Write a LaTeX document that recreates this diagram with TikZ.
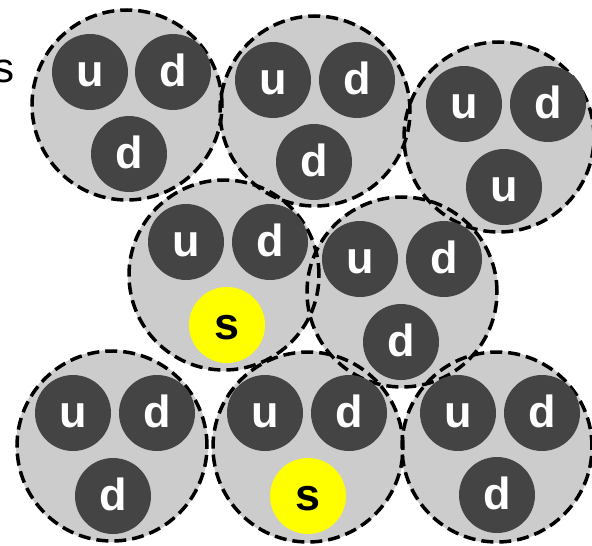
\documentclass[tikz,border=0pt]{standalone}
\usepackage{fontspec}
\setmainfont{Liberation Sans}
\definecolor{hgray}{HTML}{CCCCCC}
\definecolor{qdark}{HTML}{444444}
\definecolor{qyellow}{HTML}{FFFF00}
\begin{document}
\begin{tikzpicture}[x=1pt,y=-1pt,
  hadron/.style={circle, fill=hgray, minimum size=192pt, inner sep=0pt},
  hborder/.style={draw=black, line width=3.5pt, dash pattern=on 12pt off 6pt},
  quark/.style={circle, fill=qdark, minimum size=76pt, inner sep=0pt, text=white,
    font=\fontsize{45}{45}\selectfont\bfseries, text height=29pt, text depth=0pt},
  squark/.style={quark, fill=qyellow, text=black}]
\useasboundingbox (0,0) rectangle (592,546);
% hadrons
\node[hadron] (h1) at (127,105) {};
\node[hadron] (h2) at (315,111) {};
\node[hadron] (h3) at (499,137) {};
\node[hadron] (h4) at (224,275) {};
\node[hadron] (h5) at (402,292) {};
\node[hadron] (h6) at (112,446) {};
\node[hadron] (h7) at (308,447) {};
\node[hadron] (h8) at (497,447) {};
\foreach \n in {1,...,8} \draw[hborder] (h\n.center) circle[radius=95pt];
% quarks
\node[quark] (q1a) at (90,72) {u};
\node[quark] (q1b) at (173,72) {d};
\node[quark] (q1c) at (129,154) {d};
\node[quark] (q2a) at (273,80) {u};
\node[quark] (q2b) at (357,80) {d};
\node[quark] (q2c) at (314,162) {d};
\node[quark] (q3a) at (464,104) {u};
\node[quark] (q3b) at (548,104) {d};
\node[quark] (q3c) at (504,187) {u};
\node[quark] (q4a) at (186,242) {u};
\node[quark] (q4b) at (270,242) {d};
\node[squark] (q4c) at (227,325) {s};
\node[quark] (q5a) at (360,259) {u};
\node[quark] (q5b) at (444,259) {d};
\node[quark] (q5c) at (401,342) {d};
\node[quark] (q6a) at (73,413) {u};
\node[quark] (q6b) at (157,413) {d};
\node[quark] (q6c) at (113,496) {d};
\node[quark] (q7a) at (265,413) {u};
\node[quark] (q7b) at (349,413) {d};
\node[squark] (q7c) at (308,496) {s};
\node[quark] (q8a) at (458,413) {u};
\node[quark] (q8b) at (542,413) {d};
\node[quark] (q8c) at (497,495) {d};
% cut-off label
\node[font=\fontsize{42}{42}\selectfont, anchor=base east, inner sep=0pt] (lbl) at (15,82) {s};
\end{tikzpicture}
\end{document}
